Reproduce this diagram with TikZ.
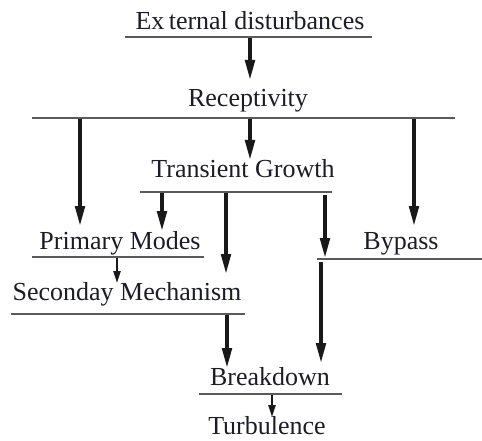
\documentclass[tikz,border=0pt]{standalone}
\usepackage{fontspec}
\setmainfont{Liberation Serif}
\usetikzlibrary{arrows.meta}
\definecolor{txt}{HTML}{1C1C28}
\definecolor{rule}{HTML}{5A5A5A}
\tikzset{
  lbl/.style={anchor=base, inner sep=0pt, text=txt, font=\fontsize{26}{28}\selectfont},
  uline/.style={draw=rule, line width=1.4pt},
  arr/.style={draw=black!90, line width=3.6pt, -{Triangle[length=20pt,width=9.5pt]}},
  sarr/.style={draw=black!90, line width=2.2pt, -{Triangle[length=12pt,width=7pt]}}
}
\begin{document}
\begin{tikzpicture}[x=1pt,y=-1pt]
\useasboundingbox (0,0) rectangle (482,441);
% text nodes
\node[lbl] (ext) at (250,30) {Ex\,ternal disturbances};
\node[lbl] (rec) at (248,107) {Receptivity};
\node[lbl] (tg)  at (243,178) {Transient Growth};
\node[lbl] (pm)  at (120,249) {Primary Modes};
\node[lbl] (by)  at (401,249) {Bypass};
\node[lbl] (sm)  at (127,300) {Seconday Mechanism};
\node[lbl] (bd)  at (270,385) {Breakdown};
\node[lbl] (tu)  at (267,434) {Turbulence};
% underlines
\draw[uline] (125,37) -- (372,37);
\draw[uline] (32,118) -- (455,118);
\draw[uline] (140,192) -- (332,192);
\draw[uline] (32,257) -- (204,257);
\draw[uline] (317,259) -- (482,259);
\draw[uline] (11,314) -- (245,314);
\draw[uline] (199,394) -- (342,394);
% arrow coordinates
\coordinate (a1s) at (250,38);  \coordinate (a1e) at (250,80);
\coordinate (a2s) at (80,119);  \coordinate (a2e) at (80,226);
\coordinate (a3s) at (250,119); \coordinate (a3e) at (250,160);
\coordinate (a4s) at (414,119); \coordinate (a4e) at (414,226);
\coordinate (a5s) at (162,193); \coordinate (a5e) at (162,231);
\coordinate (a6s) at (226,193); \coordinate (a6e) at (226,274);
\coordinate (a7s) at (325,195); \coordinate (a7e) at (325,258);
\coordinate (a8s) at (117,258); \coordinate (a8e) at (117,283);
\coordinate (a9s) at (227,315); \coordinate (a9e) at (227,368);
\coordinate (a10s) at (321,262); \coordinate (a10e) at (321,363);
\coordinate (a11s) at (272,395); \coordinate (a11e) at (272,417);
% arrows
\draw[arr] (a1s) -- (a1e);
\draw[arr] (a2s) -- (a2e);
\draw[arr] (a3s) -- (a3e);
\draw[arr] (a4s) -- (a4e);
\draw[arr] (a5s) -- (a5e);
\draw[arr] (a6s) -- (a6e);
\draw[arr] (a7s) -- (a7e);
\draw[sarr] (a8s) -- (a8e);
\draw[arr] (a9s) -- (a9e);
\draw[arr] (a10s) -- (a10e);
\draw[sarr] (a11s) -- (a11e);
\end{tikzpicture}
\end{document}
